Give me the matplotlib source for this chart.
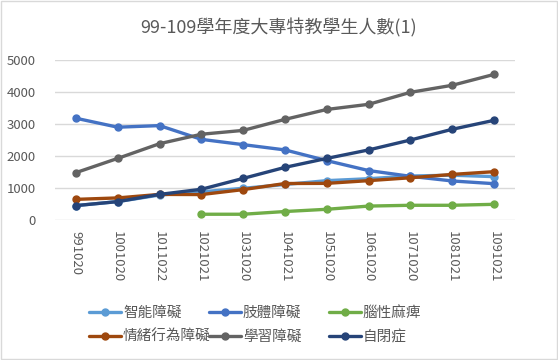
import matplotlib.pyplot as plt
import numpy as np

plt.rcParams['font.family'] = ['Noto Sans CJK TC', 'DejaVu Sans']

# 學年度 / 統計日期
years = ["991020", "1001020", "1011022", "1021021", "1031020", "1041021",
         "1051020", "1061020", "1071020", "1081021", "1091021"]

# 各障別人數 (估讀自原圖)
intellectual = [450, 575, 780, 880, 990, 1110, 1230, 1290, 1375, 1400, 1355]
physical = [3180, 2900, 2950, 2520, 2355, 2190, 1855, 1545, 1365, 1220, 1135]
cerebral = [None, None, None, 180, 180, 265, 335, 435, 460, 460, 490]
emotional = [645, 690, 800, 795, 950, 1140, 1145, 1230, 1320, 1425, 1510]
learning = [1480, 1925, 2385, 2680, 2800, 3145, 3455, 3615, 3990, 4210, 4550]
autism = [450, 575, 800, 960, 1300, 1645, 1925, 2190, 2500, 2835, 3115]

series = [
    ("智能障礙", intellectual, "#5B9BD5"),
    ("肢體障礙", physical, "#4472C4"),
    ("腦性麻痺", cerebral, "#70AD47"),
    ("情緒行為障礙", emotional, "#9E480E"),
    ("學習障礙", learning, "#636363"),
    ("自閉症", autism, "#264478"),
]

fig = plt.figure(figsize=(5.58, 3.6), dpi=100)
ax = fig.add_axes([55 / 558, 1 - 220 / 360, 460 / 558, 160 / 360])

x = np.arange(len(years))
lines = []
for name, vals, color in series:
    y = np.array([np.nan if v is None else v for v in vals], dtype=float)
    ln, = ax.plot(x, y, color=color, lw=2.4, marker="o", ms=5, label=name,
                  solid_capstyle="round")
    lines.append(ln)

ax.set_xlim(-0.5, len(years) - 0.5)
ax.set_ylim(0, 5000)
ax.set_yticks(range(0, 5001, 1000))
ax.set_xticks(x)
ax.set_xticklabels(years, rotation=-90, va="top", ha="center")
ax.tick_params(length=0, colors="#595959", labelsize=9.5)
ax.tick_params(axis="y", pad=14)
ax.tick_params(axis="x", pad=8)
ax.grid(axis="y", color="#D9D9D9", lw=1)
ax.set_axisbelow(True)
for s in ax.spines.values():
    s.set_visible(False)

fig.text(0.5, 1 - 28 / 360, "99-109學年度大專特教學生人數(1)", ha="center",
         va="center", fontsize=13, color="#595959")

# Excel-style legend: three equal-width columns, filled row by row
col_x = [77, 197, 317]
for c in range(3):
    idx = [c, c + 3]
    fig.legend([lines[i] for i in idx], [series[i][0] for i in idx],
               loc="upper left", bbox_to_anchor=(col_x[c] / 558, 1 - 294 / 360),
               ncol=1, frameon=False, fontsize=10.5, labelcolor="#595959",
               handlelength=2.2, handletextpad=0.15, labelspacing=0.7,
               borderpad=0.3)

fig.patches.append(plt.Rectangle((0.001, 0.002), 0.997, 0.995, transform=fig.transFigure,
                                 fill=False, edgecolor="#D9D9D9", lw=1))

fig.savefig("out.png", dpi=100, facecolor="white")
